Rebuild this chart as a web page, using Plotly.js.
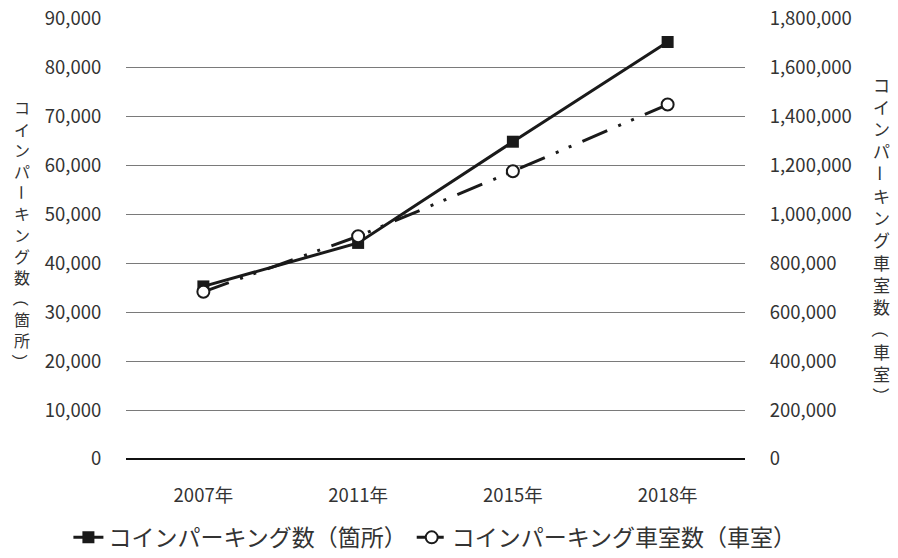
<!DOCTYPE html>
<html>
<head>
<meta charset="utf-8">
<script src="https://cdn.plot.ly/plotly-3.0.1.min.js"></script>
<style>
  html, body { margin: 0; padding: 0; background: #fff; }
  #chart { width: 898px; height: 558px; }
</style>
</head>
<body>
<div id="chart"></div>
<script>
// Survey years on the category axis
const years = ['2007年', '2011年', '2015年', '2018年'];

// Number of coin-parking sites (left axis)
const siteCounts = [35300, 44200, 64900, 85300];

// Number of coin-parking spaces (right axis)
const spaceCounts = [684000, 911000, 1177000, 1450000];

// Series names
const siteName = 'コインパーキング数（箇所）';
const spaceName = 'コインパーキング車室数（車室）';

// Axis titles, set vertically (tategaki)
const leftTitle = 'コインパーキング数（箇所）';
const rightTitle = 'コインパーキング車室数（車室）';

const FONT = '"Noto Sans CJK JP", "Noto Sans", sans-serif';
const INK = '#1a1a1a';
const TEXT = '#333333';

// Plot area in pixels
const M = { l: 125.5, r: 152.5, t: 19, b: 98.5, autoexpand: false };
const W = 898, H = 558;
const plotW = W - M.l - M.r;
const plotH = H - M.t - M.b;
const plotCenterX = M.l + plotW / 2;

// In vertical writing these characters turn a quarter turn
const ROTATED = new Set(['ー', '（', '）']);

// One annotation per character, stacked top to bottom
function verticalTitle(text, xPaper, firstCenterPx, pitch, size) {
  return Array.from(text).map((ch, i) => {
    const yPx = firstCenterPx + i * pitch;
    return {
      text: ch,
      xref: 'paper', yref: 'paper',
      x: xPaper,
      y: (H - M.b - yPx) / plotH,
      xanchor: 'center', yanchor: 'middle',
      showarrow: false,
      borderpad: 0,
      textangle: ROTATED.has(ch) ? 90 : 0,
      font: { family: FONT, size: size, color: TEXT }
    };
  });
}

const traces = [
  {
    x: years,
    y: siteCounts,
    name: siteName,
    type: 'scatter',
    mode: 'lines+markers',
    yaxis: 'y',
    line: { color: INK, width: 3 },
    marker: { symbol: 'square', size: 12, color: INK, line: { width: 0 } }
  },
  {
    x: years,
    y: spaceCounts,
    name: spaceName,
    type: 'scatter',
    mode: 'lines+markers',
    yaxis: 'y2',
    line: { color: INK, width: 3, dash: '27px,12px,3px,11px,3px,12px' },
    marker: { symbol: 'circle', size: 12, color: '#ffffff', line: { color: INK, width: 2 } }
  }
];

const layout = {
  width: W,
  height: H,
  margin: M,
  paper_bgcolor: '#ffffff',
  plot_bgcolor: '#ffffff',
  font: { family: FONT, color: TEXT, size: 18.5 },
  showlegend: true,
  legend: {
    orientation: 'h',
    // anchored by its right edge just past the plot so the single row may
    // run wider than the plot area; re-centred after the first draw
    x: 1.04,
    xanchor: 'right',
    y: (H - M.b - 538) / plotH,
    yanchor: 'middle',
    font: { family: FONT, size: 23, color: TEXT },
    itemwidth: 30,
    traceorder: 'normal'
  },
  xaxis: {
    type: 'category',
    range: [-0.5, 3.5],
    showgrid: false,
    zeroline: false,
    showline: false,
    ticks: 'outside',
    ticklen: 20,
    tickcolor: 'rgba(0,0,0,0)',
    tickfont: { family: FONT, size: 18.5, color: TEXT },
    fixedrange: true
  },
  yaxis: {
    range: [0, 90000],
    dtick: 10000,
    tickformat: ',d',
    showgrid: true,
    gridcolor: '#7a7a7a',
    gridwidth: 1.2,
    zeroline: true,
    zerolinecolor: '#111111',
    zerolinewidth: 2.2,
    showline: false,
    ticks: 'outside',
    ticklen: 20,
    tickcolor: 'rgba(0,0,0,0)',
    tickfont: { family: FONT, size: 18.5, color: TEXT },
    fixedrange: true
  },
  yaxis2: {
    overlaying: 'y',
    side: 'right',
    range: [0, 1800000],
    dtick: 200000,
    tickformat: ',d',
    showgrid: false,
    zeroline: false,
    showline: false,
    ticks: 'outside',
    ticklen: 20,
    tickcolor: 'rgba(0,0,0,0)',
    tickfont: { family: FONT, size: 18.5, color: TEXT },
    fixedrange: true
  },
  annotations: [].concat(
    verticalTitle(leftTitle, (21 - M.l) / plotW, 107.6, 21.2, 16),
    verticalTitle(rightTitle, (882 - M.l) / plotW, 84.1, 22.3, 17)
  )
};

Plotly.newPlot('chart', traces, layout, { staticPlot: true, displayModeBar: false })
  .then(gd => {
    // centre the legend row under the plot area
    const bg = gd.querySelector('.legend .bg');
    const w = bg ? bg.getBBox().width : 0;
    if (w > 0) {
      const x = (plotCenterX + w / 2 - M.l) / plotW;
      return Plotly.relayout(gd, { 'legend.x': Math.max(x, 1.001) });
    }
  });
</script>
</body>
</html>
